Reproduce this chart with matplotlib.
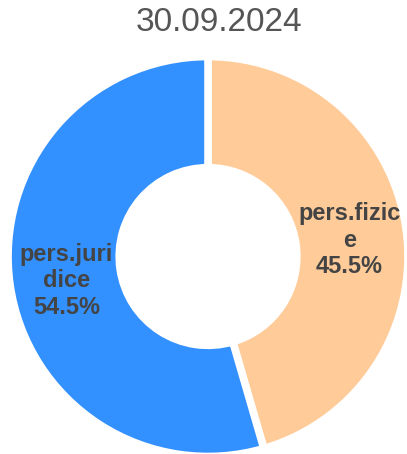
import matplotlib
matplotlib.use("Agg")
import matplotlib.pyplot as plt
import numpy as np

title = "30.09.2024"
labels = ["pers.fizice", "pers.juridice"]
label_lines = ["pers.fizic\ne", "pers.juri\ndice"]
values = [45.5, 54.5]
colors = ["#FFCC99", "#3390FF"]

plt.rcParams['font.family'] = ['Liberation Sans', 'DejaVu Sans']

fig = plt.figure(figsize=(4.07, 4.54), dpi=100)
ax = fig.add_axes([0.0197, -0.0055, 0.9828, 0.881])
wedges, _ = ax.pie(values, colors=colors, startangle=90, counterclock=False,
                   radius=1.0,
                   wedgeprops=dict(width=0.556, edgecolor="white", linewidth=5.5))
ax.set_xlim(-1, 1)
ax.set_ylim(-1, 1)
ax.set_aspect('equal')
ax.axis('off')

for w, txt, v in zip(wedges, label_lines, values):
    ang = np.deg2rad((w.theta1 + w.theta2) / 2)
    r = 0.715
    ax.text(r * np.cos(ang), r * np.sin(ang) - 0.02, f"{txt}\n{v:.1f}%",
            ha='center', va='center', fontsize=17, fontweight='bold',
            color="#444444", linespacing=1.2)

fig.text(0.538, 0.951, title, ha='center', va='center', fontsize=24, color="#555555")
fig.savefig("out.png", dpi=100)
